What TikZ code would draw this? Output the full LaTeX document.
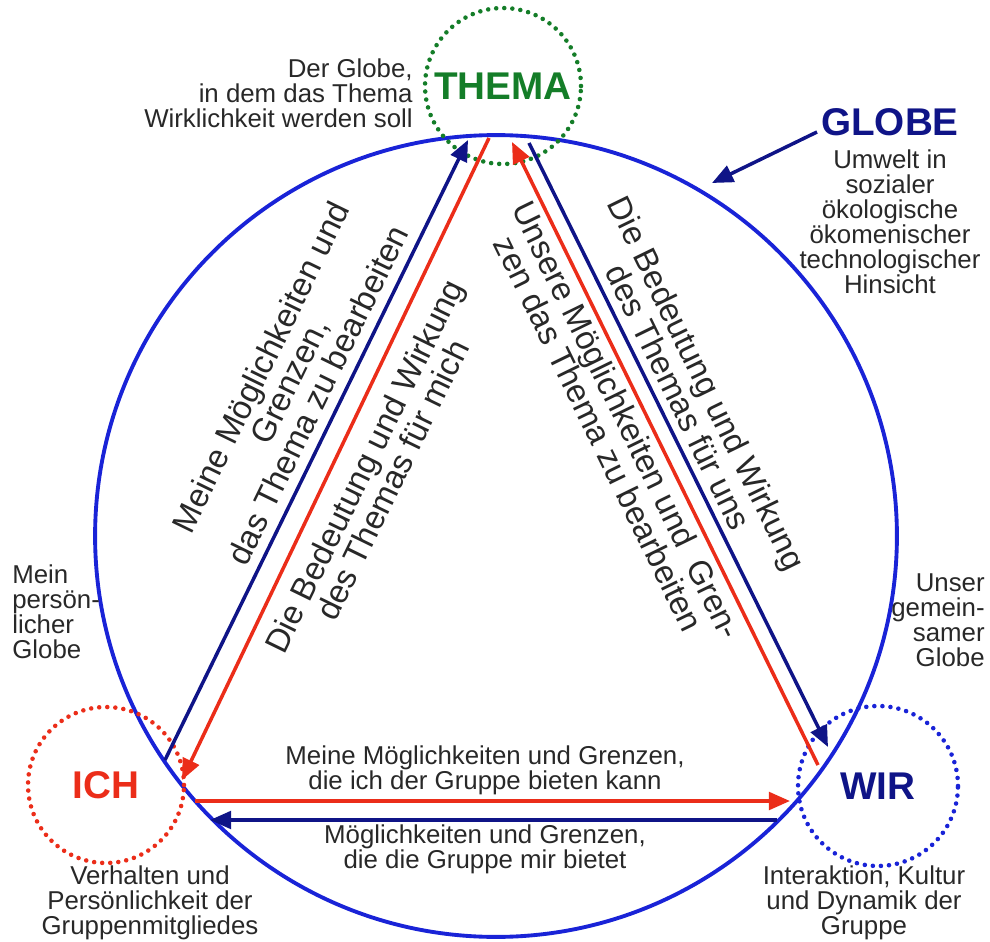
\documentclass[tikz,border=0pt]{standalone}
\usepackage{fontspec}
\setmainfont{Liberation Sans}
\usetikzlibrary{arrows.meta}
\definecolor{globeblue}{RGB}{25,35,215}
\definecolor{navy}{RGB}{15,20,135}
\definecolor{ichred}{RGB}{235,45,25}
\definecolor{themagreen}{RGB}{20,125,40}
\definecolor{txt}{RGB}{40,40,40}
\begin{document}
\begin{tikzpicture}[x=0.02cm,y=-0.02cm,
  every node/.style={inner sep=0pt,text=txt,font=\fontsize{14.7}{14.2}\selectfont},
  pole/.style={circle,draw,line width=2.6pt,dash pattern=on 0pt off 4.6pt,line cap=round,
    minimum size=3.12cm,font=\fontsize{22}{24}\selectfont\bfseries},
  link/.style={line width=2pt,-{Triangle[length=12pt,width=10pt]}},
  slant/.style={align=center,font=\fontsize{18.7}{18.1}\selectfont}]
\useasboundingbox (0,0) rectangle (990,942);
\draw[globeblue,line width=2.2pt] (496,536) circle (8.02cm);
\node[pole,draw=themagreen,text=themagreen] (thema) at (503,86) {THEMA};
\node[pole,draw=ichred,text=ichred] (ich) at (106,785) {ICH};
\node[pole,draw=globeblue,text=navy,minimum size=3.2cm] (wir) at (878,786) {WIR};
\node[text=navy,font=\fontsize{22}{24}\selectfont\bfseries] (globe) at (890,122) {GLOBE};
\coordinate (globe-a) at (817,132);
\coordinate (globe-b) at (712,183);
\coordinate (ich-a) at (165,760);
\coordinate (thema-a) at (468,140);
\coordinate (thema-b) at (489,138);
\coordinate (ich-b) at (182,780);
\coordinate (wir-c) at (818,765);
\coordinate (thema-c) at (512,142);
\coordinate (thema-d) at (529,143);
\coordinate (wir-d) at (828,747);
\coordinate (ich-e) at (195,801);
\coordinate (wir-e) at (790,801);
\coordinate (wir-f) at (777,820);
\coordinate (ich-f) at (210,820);
\draw[link,navy] (globe-a) -- (globe-b);
\draw[link,navy] (ich-a) -- (thema-a);
\draw[link,ichred] (thema-b) -- (ich-b);
\draw[link,ichred] (wir-c) -- (thema-c);
\draw[link,navy] (thema-d) -- (wir-d);
\draw[link,ichred] (ich-e) -- (wir-e);
\draw[link,navy] (wir-f) -- (ich-f);
\node[anchor=east,align=right] (thema-note) at (413,93) {Der Globe,\\in dem das Thema\\Wirklichkeit werden soll};
\node[align=center] (globe-note) at (890,222) {Umwelt in\\sozialer\\ökologische\\ökomenischer\\technologischer\\Hinsicht};
\node[anchor=west,align=left] (ich-globe) at (12,612) {Mein\\persön-\\licher\\Globe};
\node[anchor=east,align=right] (wir-globe) at (985,620) {Unser\\gemein-\\samer\\Globe};
\node[align=center] (ich-note) at (150,903) {Verhalten und\\Persönlichkeit der\\Gruppenmitgliedes};
\node[align=center] (wir-note) at (864,903) {Interaktion, Kultur\\und Dynamik der\\Gruppe};
\node[align=center] (ich-wir) at (485,770) {Meine Möglichkeiten und Grenzen,\\die ich der Gruppe bieten kann};
\node[align=center] (wir-ich) at (485,849) {Möglichkeiten und Grenzen,\\die die Gruppe mir bietet};
\node[slant,rotate=64] (ich-thema) at (289,381) {Meine Möglichkeiten und\\Grenzen,\\das Thema zu bearbeiten};
\node[slant,rotate=64] (thema-ich) at (378,473) {Die Bedeutung und Wirkung\\des Themas für mich};
\node[slant,rotate=-64] (thema-wir) at (693,390) {Die Bedeutung und Wirkung\\des Themas für uns};
\node[slant,rotate=-64] (wir-thema) at (613,427) {Unsere Möglichkeiten und\ \ Gren-\\zen das Thema zu bearbeiten};
\end{tikzpicture}
\end{document}
